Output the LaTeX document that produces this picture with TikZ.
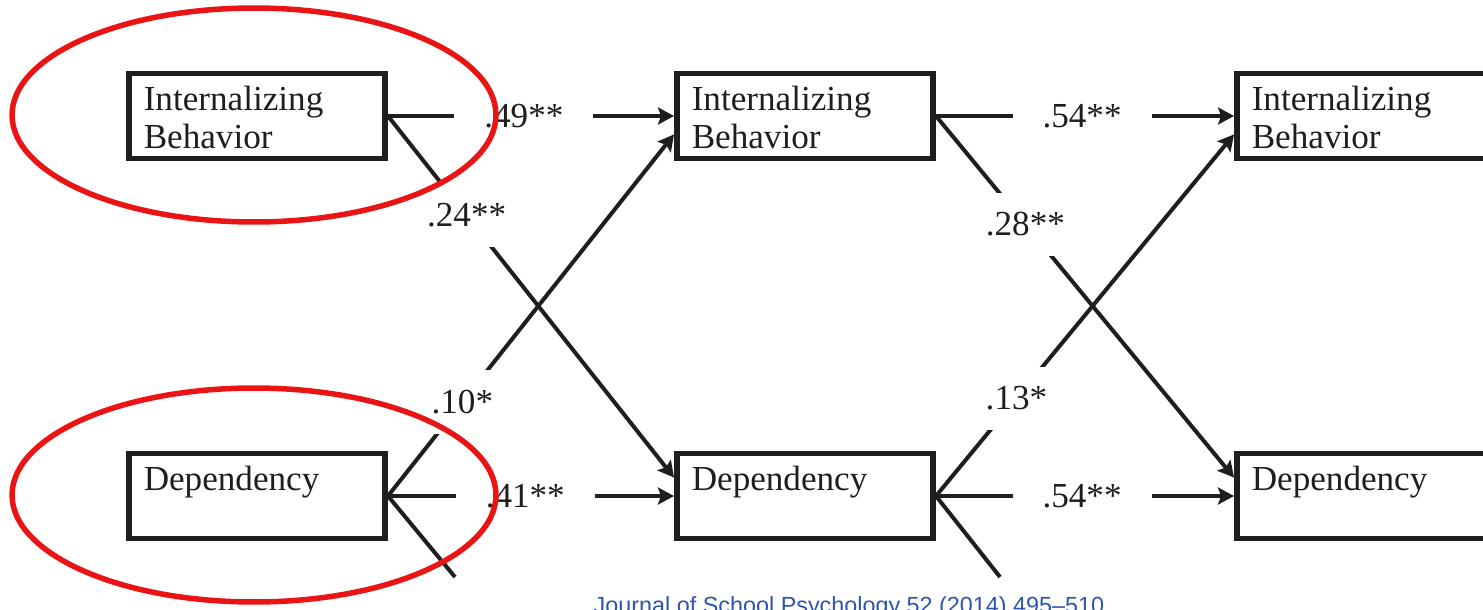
\documentclass[tikz,border=0pt]{standalone}
\usepackage{fontspec}
\setmainfont{Liberation Serif}
\newfontfamily\journalfont{Liberation Sans}
\usetikzlibrary{arrows.meta}
\definecolor{journalblue}{RGB}{45,85,175}
\definecolor{hilitered}{RGB}{235,20,20}
\definecolor{ink}{RGB}{30,30,30}
\newcommand{\vartext}[1]{\parbox[c][1.18cm][t]{4.53cm}{#1}}
\tikzset{
  var/.style={draw=ink, text=ink, line width=0.11cm, inner sep=0pt, minimum width=5.13cm, minimum height=1.7cm,
    font=\fontsize{20}{21.5}\selectfont},
  effect/.style={draw=ink, line width=0.08cm, -{Stealth[length=0.32cm,width=0.34cm,inset=0.06cm]}},
  spill/.style={draw=ink, line width=0.08cm},
  coef/.style={fill=white, text=ink, inner xsep=0.6cm, inner ysep=0.4cm, font=\fontsize{20}{24}\selectfont},
  hilite/.style={draw=hilitered, line width=0.11cm},
  journal/.style={text=journalblue, font=\journalfont\fontsize{13.3}{16}\selectfont},
}
\begin{document}
\begin{tikzpicture}[x=0.02cm, y=-0.02cm]
\useasboundingbox (0,0) rectangle (1483,609);
\clip (0,0) rectangle (1483,609);

\node[var] (intT1) at (257,116) {\vartext{Internalizing\\Behavior}};
\node[var] (depT1) at (257,496) {\vartext{Dependency}};
\node[var] (intT2) at (805,116) {\vartext{Internalizing\\Behavior}};
\node[var] (depT2) at (805,496) {\vartext{Dependency}};
\node[var] (intT3) at (1365,116) {\vartext{Internalizing\\Behavior}};
\node[var] (depT3) at (1365,496) {\vartext{Dependency}};
\coordinate (out1) at (455,577);
\coordinate (out2) at (1000,577);

% time 1 -> time 2
\draw[effect] (intT1.east) -- node[coef, pos=.475] {.49**} (intT2.west);
\draw[effect] (intT1.east) -- node[coef, pos=.275] {.24**} (depT2.172);
\draw[effect] (depT1.east) -- node[coef, pos=.48] {.41**} (depT2.west);
\draw[effect] (depT1.east) -- node[coef, pos=.26] {.10*} (intT2.188);
\draw[spill] (depT1.east) -- (out1);

% time 2 -> time 3
\draw[effect] (intT2.east) -- node[coef, pos=.49] {.54**} (intT3.west);
\draw[effect] (intT2.east) -- node[coef, pos=.30] {.28**} (depT3.172);
\draw[effect] (depT2.east) -- node[coef, pos=.49] {.54**} (depT3.west);
\draw[effect] (depT2.east) -- node[coef, pos=.27] {.13*} (intT3.188);
\draw[spill] (depT2.east) -- (out2);

\node[journal, anchor=base] (source) at (849,613) {Journal of School Psychology 52 (2014) 495–510};

% highlights
\draw[hilite] (254,115) ellipse [x radius=4.84cm, y radius=2.14cm];
\draw[hilite] (254,495) ellipse [x radius=4.84cm, y radius=2.14cm];
\end{tikzpicture}
\end{document}
